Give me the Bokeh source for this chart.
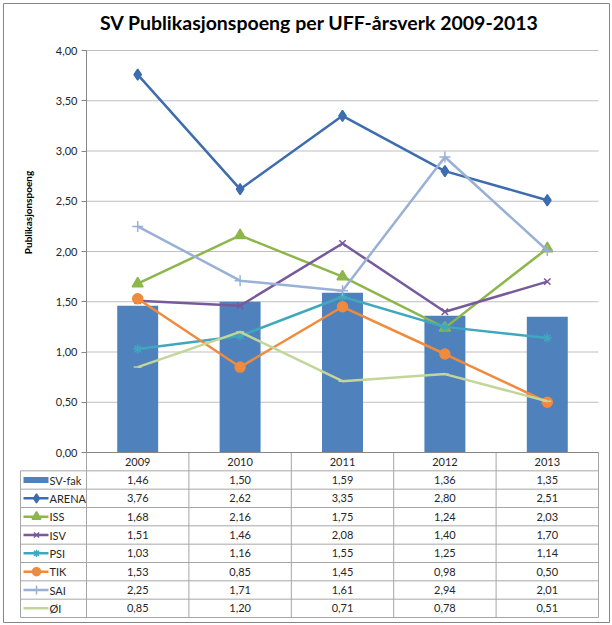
import math
import numpy as np
from bokeh.plotting import figure
from bokeh.models import Range1d, LinearAxis, FixedTicker, CustomJSTickFormatter, Label
from bokeh.core.properties import value
from bokeh.embed import file_html
from bokeh.resources import INLINE

# ---------------- data ----------------
YEARS = ["2009", "2010", "2011", "2012", "2013"]
SV_FAK = [1.46, 1.50, 1.59, 1.36, 1.35]
ARENA = [3.76, 2.62, 3.35, 2.80, 2.51]
ISS = [1.68, 2.16, 1.75, 1.24, 2.03]
ISV = [1.51, 1.46, 2.08, 1.40, 1.70]
PSI = [1.03, 1.16, 1.55, 1.25, 1.14]
TIK = [1.53, 0.85, 1.45, 0.98, 0.50]
SAI = [2.25, 1.71, 1.61, 2.94, 2.01]
OI = [0.85, 1.20, 0.71, 0.78, 0.51]
Y_TICKS = [0.0, 0.5, 1.0, 1.5, 2.0, 2.5, 3.0, 3.5, 4.0]
TITLE = "SV Publikasjonspoeng per UFF-årsverk 2009-2013"
Y_LABEL = "Publikasjonspoeng"
BAR_NAME = "SV-fak"
LINE_NAMES = ["ARENA", "ISS", "ISV", "PSI", "TIK", "SAI", "ØI"]
LINE_VALUES = [ARENA, ISS, ISV, PSI, TIK, SAI, OI]

# ---------------- styles ----------------
BAR_COLOR = "#4F81BD"
LINE_STYLE = {
    "ARENA": ("#3D6DAE", "diamond", 11),
    "ISS": ("#8DB64B", "triangle", 11),
    "ISV": ("#775A9C", "x", 9),
    "PSI": ("#3FA8BF", "asterisk", 9),
    "TIK": ("#F08A3C", "circle", 10),
    "SAI": ("#98B1D5", "cross", 11),
    "ØI": ("#C2D69A", "dash", 8),
}
FONT = "Lato"
TEXT_COLOR = "#262626"
GRID_COLOR = "#BFBFBF"
TABLE_COLOR = "#A6A6A6"
AXIS_COLOR = "#868686"

# ---------------- layout (page pixels) ----------------
W, H = 612, 625
MB = 3
PAGE_X0, PAGE_Y0 = 0, 0
PLOT_L, PLOT_R = 86, 598
Y_TOP_PX, Y_ZERO_PX = 50, 452
TABLE_BOTTOM_PX = 617
LEGEND_L_PX = 20

sx = (PLOT_R - PLOT_L) / len(YEARS)
sy = (Y_ZERO_PX - Y_TOP_PX) / Y_TICKS[-1]


def dx(px):
    return (px - PLOT_L) / sx


def dy(py):
    return (Y_ZERO_PX - py) / sy


frame_l, frame_r = PAGE_X0 + MB, PAGE_X0 + W - MB
frame_t, frame_b = PAGE_Y0 + MB, PAGE_Y0 + H - MB

p = figure(width=W, height=H, output_backend="svg", toolbar_location=None,
           x_range=Range1d(dx(frame_l), dx(frame_r)),
           y_range=Range1d(dy(frame_b), dy(frame_t)),
           x_axis_location=None, y_axis_location=None,
           min_border_left=MB, min_border_right=MB, min_border_top=MB, min_border_bottom=MB)
p.outline_line_color = AXIS_COLOR
p.outline_line_width = 1
p.background_fill_color = "white"
p.border_fill_color = "white"
p.xgrid.grid_line_color = None
p.ygrid.grid_line_color = None

xs = np.arange(len(YEARS)) + 0.5

# gridlines (not at zero)
grid_y = [t for t in Y_TICKS if t > 0]
p.segment(x0=[0] * len(grid_y), x1=[len(YEARS)] * len(grid_y), y0=grid_y, y1=grid_y,
          line_color=GRID_COLOR, line_width=1)

# y axis placed at x = 0
yaxis = LinearAxis(fixed_location=0, ticker=FixedTicker(ticks=Y_TICKS),
                   formatter=CustomJSTickFormatter(code="return tick.toFixed(2).replace('.', ',');"),
                   bounds=(Y_TICKS[0], Y_TICKS[-1]))
yaxis.axis_line_color = AXIS_COLOR
yaxis.major_tick_line_color = AXIS_COLOR
yaxis.major_tick_out = 5
yaxis.major_tick_in = 0
yaxis.minor_tick_line_color = None
yaxis.major_label_text_font = FONT
yaxis.major_label_text_font_size = "11px"
yaxis.major_label_text_color = TEXT_COLOR
yaxis.major_label_standoff = 4
p.add_layout(yaxis, "left")

# bars
p.vbar(x=xs, top=SV_FAK, width=0.4, fill_color=BAR_COLOR, line_color=None)

# lines
for name, vals in zip(LINE_NAMES, LINE_VALUES):
    color, marker, size = LINE_STYLE[name]
    p.line(xs, vals, line_color=color, line_width=2.5)
    p.scatter(xs, vals, marker=marker, size=size, fill_color=color, line_color=color,
              line_width=1.5)

# ---------------- data table ----------------
n_rows = 2 + len(LINE_NAMES)
row_h = (dy(Y_ZERO_PX) - dy(TABLE_BOTTOM_PX)) / n_rows


def row_center(r):
    return -(r + 0.5) * row_h


def row_edge(r):
    return -r * row_h


leg_l = dx(LEGEND_L_PX)
# horizontal lines
hx0 = [0] + [leg_l] * n_rows
hy = [row_edge(r) for r in range(n_rows + 1)]
p.segment(x0=hx0, x1=[len(YEARS)] * len(hy), y0=hy, y1=hy, line_color=TABLE_COLOR, line_width=1)
# vertical lines
vx = list(range(len(YEARS) + 1))
p.segment(x0=vx, x1=vx, y0=[0] * len(vx), y1=[row_edge(n_rows)] * len(vx),
          line_color=TABLE_COLOR, line_width=1)
p.segment(x0=[leg_l], x1=[leg_l], y0=[row_edge(1)], y1=[row_edge(n_rows)],
          line_color=TABLE_COLOR, line_width=1)
# axis line at zero drawn darker
p.segment(x0=[0], x1=[len(YEARS)], y0=[0], y1=[0], line_color=AXIS_COLOR, line_width=1)

text_kw = dict(text_font=value(FONT), text_font_size="11px", text_color=TEXT_COLOR,
               text_baseline="middle")
# header
p.text(x=xs, y=[row_center(0)] * len(YEARS), text=YEARS, text_align="center", **text_kw)

all_names = [BAR_NAME] + LINE_NAMES
all_vals = [SV_FAK] + LINE_VALUES
for r, (name, vals) in enumerate(zip(all_names, all_vals), start=1):
    yc = row_center(r)
    p.text(x=xs, y=[yc] * len(vals), text=[f"{v:.2f}".replace(".", ",") for v in vals],
           text_align="center", **text_kw)
    p.text(x=[dx(49)], y=[yc], text=[name], text_align="left", **text_kw)

# legend keys
ks_l, ks_r, ks_m = dx(23), dx(48), dx(36)
p.rect(x=[(ks_l + ks_r) / 2], y=[row_center(1)], width=ks_r - ks_l, height=6,
       height_units="screen", fill_color=BAR_COLOR, line_color=None)
for r, name in enumerate(LINE_NAMES, start=2):
    color, marker, size = LINE_STYLE[name]
    yc = row_center(r)
    p.line([ks_l, ks_r], [yc, yc], line_color=color, line_width=2.5)
    p.scatter([ks_m], [yc], marker=marker, size=size * 0.8, fill_color=color,
              line_color=color, line_width=1.5)

# titles
p.add_layout(Label(x=dx(319), y=dy(22), text=TITLE, text_font=FONT, text_font_size="19.5px",
                   text_font_style="bold", text_align="center", text_baseline="middle",
                   text_color="#000000"))
p.add_layout(Label(x=dx(27), y=dy(212), text=Y_LABEL, angle=math.pi / 2, text_font=FONT,
                   text_font_size="10px", text_font_style="bold", text_align="center",
                   text_baseline="middle", text_color="#000000"))

open("out.html", "w").write(file_html(p, INLINE))
